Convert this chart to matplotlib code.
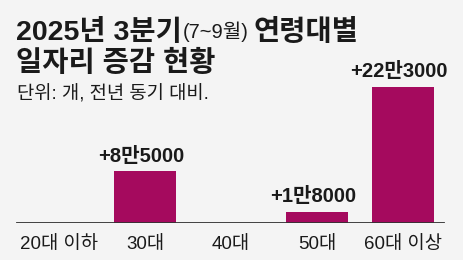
import matplotlib
matplotlib.use("Agg")
import matplotlib.pyplot as plt

plt.rcParams["font.family"] = ["Liberation Sans", "Noto Sans CJK KR", "DejaVu Sans"]

BG_COLOR = "#f4f4f4"
BAR_COLOR = "#a50a5e"
TEXT_COLOR = "#1a1a1a"
AXIS_COLOR = "#333333"

categories = ["20대 이하", "30대", "40대", "50대", "60대 이상"]
values = [0, 85000, 0, 18000, 223000]
value_labels = ["", "+8만5000", "", "+1만8000", "+22만3000"]

W, H = 464, 260
fig = plt.figure(figsize=(W / 100, H / 100), dpi=100)
fig.patch.set_facecolor(BG_COLOR)

# plot area: baseline 223px from top, top edge 60px from top
ax = fig.add_axes([0, 37 / H, 1, (223 - 60) / H])
ax.set_facecolor("none")
slot = 86
x0 = 59
ax.set_xlim(-x0 / slot, (W - x0) / slot)
per_px = 223000 / 136
ax.set_ylim(0, 163 * per_px)
for s in ax.spines.values():
    s.set_visible(False)
ax.set_yticks([])

xs = list(range(len(categories)))
ax.bar(xs, values, width=0.72, color=BAR_COLOR, zorder=2)
ax.axhline(0, xmin=17 / W, xmax=444 / W, color=AXIS_COLOR, lw=1.3, zorder=3)

ax.set_xticks(xs)
ax.set_xticklabels(categories, fontsize=13.5, color=TEXT_COLOR)
ax.tick_params(axis="x", length=0, pad=9)

for x, v, lab in zip(xs, values, value_labels):
    if lab:
        ax.annotate(lab, (x, v), xytext=(-3, 4), textcoords="offset points",
                    ha="center", va="bottom", fontsize=14.5, fontweight="bold",
                    color=TEXT_COLOR)

# title block
def px(x, y):
    return x / W, 1 - y / H

renderer = fig.canvas.get_renderer()
t1 = fig.text(*px(16, 40), "2025년 3분기", fontsize=20.5, fontweight="bold",
              color=TEXT_COLOR, va="baseline", ha="left")
bb = t1.get_window_extent(renderer)
t2 = fig.text((bb.x1 + 1) / W, 1 - 38 / H, "(7~9월)", fontsize=14.5,
              color=TEXT_COLOR, va="baseline", ha="left")
bb2 = t2.get_window_extent(renderer)
fig.text((bb2.x1 + 5) / W, 1 - 40 / H, "연령대별", fontsize=20.5, fontweight="bold",
         color=TEXT_COLOR, va="baseline", ha="left")
fig.text(*px(16, 71), "일자리 증감 현황", fontsize=20.5, fontweight="bold",
         color=TEXT_COLOR, va="baseline", ha="left")
fig.text(*px(17, 100), "단위: 개, 전년 동기 대비.", fontsize=13.5,
         color=TEXT_COLOR, va="baseline", ha="left")

fig.savefig("out.png", dpi=100, facecolor=fig.get_facecolor())
